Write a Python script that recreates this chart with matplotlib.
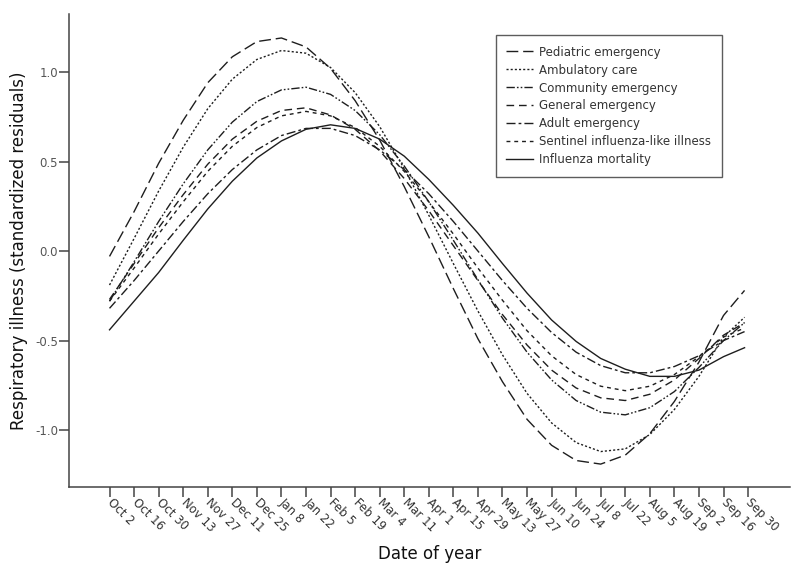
import matplotlib
matplotlib.use("Agg")
import matplotlib.pyplot as plt
import matplotlib.transforms as mtransforms

# ---- data ----
tick_labels = ["Oct 2", "Oct 16", "Oct 30", "Nov 13", "Nov 27", "Dec 11", "Dec 25",
               "Jan 8", "Jan 22", "Feb 5", "Feb 19", "Mar 4", "Mar 11", "Apr 1",
               "Apr 15", "Apr 29", "May 13", "May 27", "Jun 10", "Jun 24", "Jul 8",
               "Jul 22", "Aug 5", "Aug 19", "Sep 2", "Sep 16", "Sep 30"]
tick_days = [0, 14, 28, 42, 56, 70, 84, 98, 112, 126, 140, 154, 168, 182, 196,
             210, 224, 238, 252, 266, 280, 294, 308, 322, 336, 350, 364]
sample_days = [0, 14, 28, 42, 56, 70, 84, 98, 112, 126, 140, 154, 168, 182, 196,
               210, 224, 238, 252, 266, 280, 294, 308, 322, 336, 350, 362]

pediatric = [-0.03, 0.22, 0.49, 0.73, 0.94, 1.085, 1.17, 1.19, 1.14, 1.02, 0.84,
             0.62, 0.36, 0.08, -0.21, -0.49, -0.73, -0.94, -1.085, -1.17, -1.19,
             -1.14, -1.02, -0.84, -0.62, -0.36, -0.22]
ambulatory = [-0.19, 0.07, 0.335, 0.58, 0.795, 0.96, 1.07, 1.12, 1.105, 1.025, 0.885,
              0.695, 0.46, 0.20, -0.07, -0.335, -0.58, -0.795, -0.96, -1.07, -1.12,
              -1.105, -1.025, -0.885, -0.70, -0.48, -0.37]
community = [-0.28, -0.06, 0.165, 0.375, 0.565, 0.72, 0.835, 0.90, 0.915, 0.875, 0.785,
             0.65, 0.475, 0.275, 0.06, -0.16, -0.375, -0.565, -0.72, -0.835, -0.90,
             -0.915, -0.875, -0.785, -0.65, -0.50, -0.40]
general = [-0.27, -0.07, 0.13, 0.315, 0.485, 0.625, 0.725, 0.785, 0.80, 0.76, 0.68,
           0.56, 0.405, 0.225, 0.03, -0.165, -0.355, -0.525, -0.665, -0.765, -0.82,
           -0.835, -0.80, -0.72, -0.60, -0.47, -0.40]
adult = [-0.32, -0.165, 0.0, 0.165, 0.32, 0.455, 0.565, 0.645, 0.685, 0.685, 0.645,
         0.565, 0.455, 0.32, 0.165, 0.0, -0.165, -0.32, -0.455, -0.565, -0.64,
         -0.68, -0.68, -0.645, -0.585, -0.50, -0.45]
sentinel = [-0.28, -0.095, 0.095, 0.275, 0.445, 0.585, 0.69, 0.755, 0.78, 0.755, 0.69,
            0.585, 0.445, 0.275, 0.095, -0.095, -0.275, -0.445, -0.585, -0.69, -0.755,
            -0.78, -0.755, -0.69, -0.59, -0.48, -0.43]
mortality = [-0.44, -0.28, -0.12, 0.06, 0.235, 0.39, 0.52, 0.615, 0.68, 0.705, 0.685,
             0.625, 0.53, 0.40, 0.255, 0.10, -0.07, -0.235, -0.385, -0.505, -0.60,
             -0.66, -0.70, -0.70, -0.665, -0.59, -0.54]

series_names = ["Pediatric emergency", "Ambulatory care", "Community emergency",
                "General emergency", "Adult emergency",
                "Sentinel influenza-like illness", "Influenza mortality"]
series_values = [pediatric, ambulatory, community, general, adult, sentinel, mortality]
y_ticks = [-1.0, -0.5, 0.0, 0.5, 1.0]

# ---- styles ----
dash_styles = [(0, (8.5, 3.5)),
               (0, (1.5, 1.5)),
               (0, (6, 1.5, 1.2, 1.5, 1.2, 1.5)),
               (0, (5.5, 3.5)),
               (0, (6.5, 2.2, 2, 2.2)),
               (0, (2.8, 2.8)),
               "solid"]

plt.rcParams["font.family"] = ["DejaVu Sans"]

fig = plt.figure(figsize=(8.0, 5.71), dpi=100)
ax = fig.add_axes([0.08625, 0.1471, 0.90125, 0.8284])

line_color = "#1e1e1e"
for name, vals, ls in zip(series_names, series_values, dash_styles):
    ax.plot(sample_days, vals, color=line_color, lw=1.0, linestyle=ls, label=name)

ax.set_xlim(-23.1, 387.9)
ax.set_ylim(-1.318, 1.324)

ax.set_xticks(tick_days)
ax.set_xticklabels(tick_labels, rotation=-45, ha="left", va="center",
                   rotation_mode="anchor", fontsize=8.5, color="#333333")
shift = mtransforms.ScaledTranslation(3 / 100, -2 / 100, fig.dpi_scale_trans)
for lbl in ax.get_xticklabels():
    lbl.set_transform(lbl.get_transform() + shift)

ax.set_yticks(y_ticks)
ax.set_yticklabels([f"{v:.1f}" for v in y_ticks], fontsize=8.5, color="#555555")

for s in ["top", "right"]:
    ax.spines[s].set_visible(False)
for s in ["left", "bottom"]:
    ax.spines[s].set_color("#444444")
    ax.spines[s].set_linewidth(1.1)
ax.tick_params(axis="both", direction="out", length=7, width=1.1, color="#444444")
ax.tick_params(axis="y", pad=1)
ax.tick_params(axis="x", pad=3)

ax.set_ylabel("Respiratory illness (standardized residuals)", fontsize=12,
              color="#111111")
ax.yaxis.set_label_coords(-0.057, 0.5)
ax.set_xlabel("Date of year", fontsize=12, color="#111111")
ax.xaxis.set_label_coords(0.5, -0.122)

leg = ax.legend(loc="upper right", bbox_to_anchor=(0.9057, 0.9556), borderaxespad=0,
                fontsize=8.5, frameon=True, fancybox=False, handlelength=2.3,
                handletextpad=0.5, labelspacing=0.42, borderpad=0.9)
leg.get_frame().set_edgecolor("#333333")
leg.get_frame().set_linewidth(1.0)
for t in leg.get_texts():
    t.set_color("#333333")

fig.savefig("out.png", dpi=100, facecolor="white")
